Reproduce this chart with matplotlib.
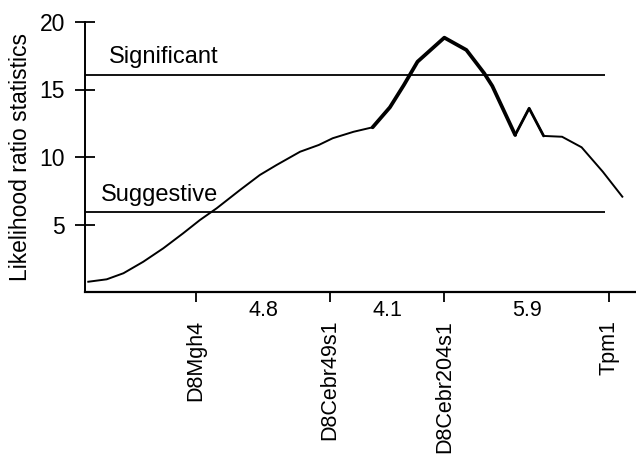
import matplotlib
matplotlib.use("Agg")
import matplotlib.pyplot as plt
import numpy as np

plt.rcParams['font.family'] = ['Liberation Sans', 'DejaVu Sans']

# Data
marker_names = ["D8Mgh4", "D8Cebr49s1", "D8Cebr204s1", "Tpm1"]
intervals_cM = [4.8, 4.1, 5.9]
interval_labels = ["4.8", "4.1", "5.9"]

pos_cM = [-3.86, -3.20, -2.60, -1.89, -1.17, -0.46, 0.14, 0.74, 1.58, 2.29,
          2.89, 3.73, 4.40, 4.90, 5.65, 6.33, 6.95, 7.45, 7.94, 8.90,
          9.69, 10.33, 10.62, 11.44, 11.94, 12.46, 13.12, 13.82, 14.58, 15.28]
lrs = [0.76, 0.94, 1.39, 2.24, 3.24, 4.35, 5.33, 6.20, 7.56, 8.67,
       9.41, 10.39, 10.89, 11.39, 11.87, 12.20, 13.68, 15.33, 17.06, 18.84,
       17.93, 16.20, 15.26, 11.63, 13.61, 11.56, 11.50, 10.72, 8.91, 7.06]

significant = 16.1
suggestive = 5.95

marker_pos = np.concatenate([[0.0], np.cumsum(intervals_cM)])

fig = plt.figure(figsize=(6.36, 4.55), dpi=100)
ax = fig.add_axes([85/636, 163/455, 551/636, 270/455])

x = np.array(pos_cM)
y = np.array(lrs)
ax.plot(x, y, color='black', lw=1.4, solid_joinstyle='miter')
ax.plot(x[15:24], y[15:24], color='black', lw=2.7, solid_capstyle='round')
ax.plot(x[23:26], y[23:26], color='black', lw=2.0, solid_capstyle='round')

xmin, xmax = -3.978, 15.77
ax.set_xlim(xmin, xmax)
ax.set_ylim(0, 20)

ax.hlines([significant, suggestive], xmin, 14.66, color='black', lw=1.3)
ax.text(-3.12, 16.94, "Significant", fontsize=17, va='baseline', ha='left')
ax.text(-3.42, 6.76, "Suggestive", fontsize=17, va='baseline', ha='left')

for s in ['top', 'right']:
    ax.spines[s].set_visible(False)
ax.spines['left'].set_linewidth(1.4)
ax.spines['bottom'].set_linewidth(1.6)

ax.set_yticks([5, 10, 15, 20])
ax.tick_params(axis='y', direction='inout', length=15, width=1.3, labelsize=16.5, pad=7)
ax.set_xticks(marker_pos)
ax.set_xticklabels(marker_names, rotation=90, fontsize=15.5)
ax.tick_params(axis='x', direction='out', length=7, width=1.3, pad=13)

mids = (marker_pos[:-1] + marker_pos[1:]) / 2
for m, lab in zip(mids, interval_labels):
    ax.annotate(lab, xy=(m, 0), xycoords=('data', 'axes fraction'),
                xytext=(0, -6), textcoords='offset points',
                ha='center', va='top', fontsize=15.5)

ax.set_ylabel("Likelihood ratio statistics", fontsize=16.5, labelpad=5)

fig.savefig("out.png", dpi=100)
